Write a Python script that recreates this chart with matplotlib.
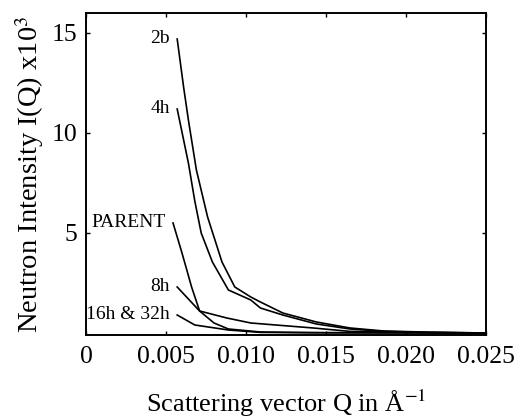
import matplotlib
matplotlib.use('Agg')
import matplotlib.pyplot as plt

plt.rcParams['font.family'] = ['Liberation Serif', 'DejaVu Serif']
plt.rcParams['mathtext.fontset'] = 'stix'

# data (Q in 1/A, intensity x10^3)
q_2h = [0.0057, 0.0061, 0.0064, 0.0069, 0.0076, 0.0085, 0.0093, 0.0103, 0.0109, 0.0123, 0.0144, 0.0165, 0.0186, 0.0215, 0.025]
i_2h = [14.7, 12.3, 10.65, 8.15, 5.8, 3.55, 2.3, 1.8, 1.55, 1.0, 0.55, 0.25, 0.1, 0.04, 0.0]

q_4h = [0.0057, 0.0064, 0.0068, 0.0072, 0.0079, 0.0089, 0.0103, 0.0109, 0.0123, 0.0144, 0.0165, 0.0186, 0.0215, 0.025]
i_4h = [11.2, 8.5, 6.6, 5.0, 3.55, 2.15, 1.65, 1.25, 0.9, 0.45, 0.2, 0.08, 0.03, 0.0]

q_parent = [0.00544, 0.0060, 0.0066, 0.0071, 0.0080, 0.0089, 0.0109, 0.014, 0.025]
i_parent = [5.5, 4.0, 2.3, 1.1, 0.5, 0.2, 0.05, 0.02, 0.0]

q_8h = [0.0057, 0.0071, 0.0088, 0.0103, 0.0142, 0.0165, 0.020, 0.025]
i_8h = [2.3, 1.1, 0.75, 0.5, 0.25, 0.08, 0.03, 0.0]

q_16h = [0.0057, 0.0068, 0.0089, 0.0109, 0.015, 0.025]
i_16h = [0.9, 0.4, 0.15, 0.03, 0.01, 0.0]

labels = ['2b', '4h', 'PARENT', '8h', '16h & 32h']
series = [(q_2h, i_2h), (q_4h, i_4h), (q_parent, i_parent), (q_8h, i_8h), (q_16h, i_16h)]

fig = plt.figure(figsize=(5.14, 4.19), dpi=100)
ax = fig.add_axes([0.1673, 0.2005, 0.7782, 0.7685])

for (q, i), lab in zip(series, labels):
    ax.plot(q, i, color='black', linewidth=1.2)
    ax.text(q[0] - 0.00045, i[0], lab, fontsize=14, ha='right', va='center')

ax.set_xlim(0, 0.025)
ax.set_ylim(-0.1, 16)
ax.set_xticks([0, 0.005, 0.010, 0.015, 0.020, 0.025])
ax.set_xticklabels(['0', '0.005', '0.010', '0.015', '0.020', '0.025'])
ax.set_yticks([5, 10, 15])
ax.tick_params(direction='in', length=3, width=1, top=True, right=True,
               labelsize=18.5, pad=8)
ax.tick_params(axis='y', pad=6)
for s in ax.spines.values():
    s.set_linewidth(1.4)

ax.set_ylabel('Neutron Intensity I(Q) x10$^3$', fontsize=20.5, labelpad=4)
ax.set_xlabel('Scattering vector Q in Å$^{-1}$', fontsize=19, labelpad=14)

fig.savefig('out.png', dpi=100)
